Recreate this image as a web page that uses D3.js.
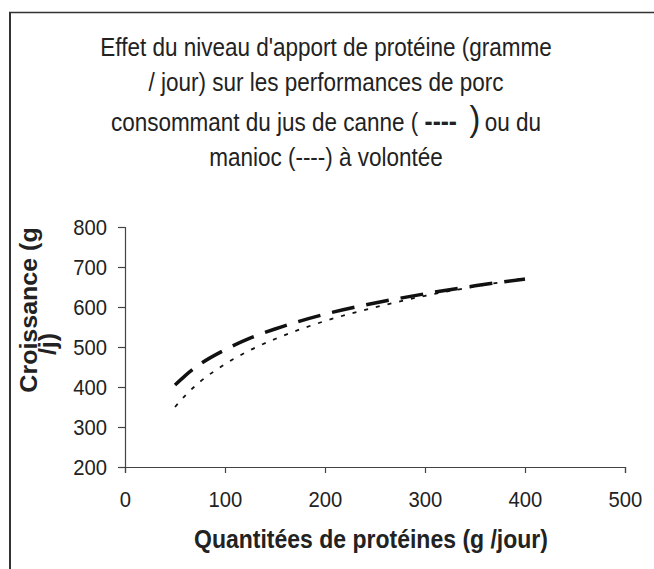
<!DOCTYPE html>
<html>
<head>
<meta charset="utf-8">
<script src="https://cdn.jsdelivr.net/npm/d3@7"></script>
<style>
  body { margin: 0; background: #fff; }
  svg { display: block; font-family: Arial, "Liberation Sans", sans-serif; }
</style>
</head>
<body>
<svg id="chart"></svg>
<script>
// protein intake (g / jour)
const proteinLevels = [50, 60, 75, 100, 125, 150, 200, 250, 300, 350, 400];
// growth (g / j)
const canneGrowth = [405, 428, 457, 493, 522, 545, 582, 610, 633, 653, 670];
const maniocGrowth = [350, 378, 413, 457, 492, 520, 565, 599, 628, 651, 672];

const xTicks = [0, 100, 200, 300, 400, 500];
const yTicks = [200, 300, 400, 500, 600, 700, 800];

const titleLines = [
  "Effet du niveau d'apport de protéine (gramme",
  "/ jour) sur les performances de porc",
  null, // built with tspans below
  "manioc (----) à volontée",
];

const svgWidth = 654;
const svgHeight = 569;
const margin = { top: 227, right: 29, bottom: 102, left: 125 };
const width = svgWidth - margin.left - margin.right;
const height = svgHeight - margin.top - margin.bottom;

// the source picture is a bit squeezed sideways
const squeeze = 0.92;
const titleSqueeze = 0.9;

const svg = d3.select("#chart")
  .attr("width", svgWidth)
  .attr("height", svgHeight);

// frame (only left and top edges are visible in the crop)
svg.append("line")
  .attr("x1", 10).attr("x2", 10)
  .attr("y1", 12).attr("y2", svgHeight)
  .attr("stroke", "#333")
  .attr("stroke-width", 2);
svg.append("line")
  .attr("x1", 9).attr("x2", svgWidth)
  .attr("y1", 12.5).attr("y2", 12.5)
  .attr("stroke", "#333")
  .attr("stroke-width", 1.5);

// title
const titleX = 326;
const titleY = [56, 91, 131, 166];

const title = svg.append("g")
  .attr("fill", "#222")
  .style("font-size", "25px")
  .attr("text-anchor", "middle");

titleLines.forEach((line, i) => {
  if (line === null) return;
  title.append("text")
    .attr("transform", `translate(${titleX},${titleY[i]}) scale(${titleSqueeze},1)`)
    .text(line);
});

const line3 = title.append("text")
  .attr("transform", `translate(${titleX},${titleY[2]}) scale(${titleSqueeze},1)`);
line3.append("tspan").text("consommant du jus de canne ( ");
line3.append("tspan")
  .style("font-weight", "bold")
  .style("font-size", "27px")
  .text("----");
line3.append("tspan")
  .style("font-size", "36px")
  .attr("dx", 14)
  .text(")");
line3.append("tspan").attr("dx", 5).text("ou du");

const chart = svg.append("g")
  .attr("transform", `translate(${margin.left},${margin.top})`);

const x = d3.scaleLinear()
  .domain([0, 500])
  .range([0, width]);

const y = d3.scaleLinear()
  .domain([200, 800])
  .range([height, 0]);

const styleAxis = (g) => {
  g.select(".domain").attr("stroke", "#444").attr("stroke-width", 1.2);
  g.selectAll(".tick line").attr("stroke", "#444").attr("stroke-width", 1.2);
  g.selectAll("text")
    .style("font-size", "22px")
    .attr("fill", "#222")
    .attr("font-family", "Arial, 'Liberation Sans', sans-serif");
};

chart.append("g")
  .attr("class", "x-axis")
  .attr("transform", `translate(0,${height})`)
  .call(d3.axisBottom(x).tickValues(xTicks).tickSize(6).tickPadding(18))
  .call(styleAxis)
  .call((g) => g.selectAll("text").attr("transform", `scale(${squeeze},1)`));

chart.append("g")
  .attr("class", "y-axis")
  .call(d3.axisLeft(y).tickValues(yTicks).tickSize(7).tickPadding(11))
  .call(styleAxis)
  .call((g) =>
    g.selectAll("text")
      .attr("x", -18 / squeeze)
      .attr("transform", `scale(${squeeze},1)`)
  );

const lineGen = d3.line()
  .x((d) => x(d[0]))
  .y((d) => y(d[1]))
  .curve(d3.curveMonotoneX);

// manioc: fine dotted
chart.append("path")
  .datum(proteinLevels.map((p, i) => [p, maniocGrowth[i]]))
  .attr("fill", "none")
  .attr("stroke", "#111")
  .attr("stroke-width", 1.8)
  .attr("stroke-dasharray", "4,8")
  .attr("d", lineGen);

// jus de canne: heavy dashes
chart.append("path")
  .datum(proteinLevels.map((p, i) => [p, canneGrowth[i]]))
  .attr("fill", "none")
  .attr("stroke", "#111")
  .attr("stroke-width", 3.5)
  .attr("stroke-dasharray", "23,12")
  .attr("d", lineGen);

// axis titles
svg.append("text")
  .attr("transform", `translate(${margin.left + width / 2 - 4},548) scale(${squeeze},1)`)
  .attr("text-anchor", "middle")
  .attr("fill", "#222")
  .style("font-size", "25px")
  .style("font-weight", "bold")
  .text("Quantitées de protéines (g /jour)");

svg.append("text")
  .attr("transform", `translate(37,310) scale(${squeeze},1) rotate(-90)`)
  .attr("text-anchor", "middle")
  .attr("fill", "#222")
  .style("font-size", "25px")
  .style("font-weight", "bold")
  .text("Croissance (g");

svg.append("text")
  .attr("transform", `translate(56,344) scale(${squeeze},1) rotate(-90)`)
  .attr("text-anchor", "middle")
  .attr("fill", "#222")
  .style("font-size", "25px")
  .style("font-weight", "bold")
  .text("/j)");
</script>
</body>
</html>
